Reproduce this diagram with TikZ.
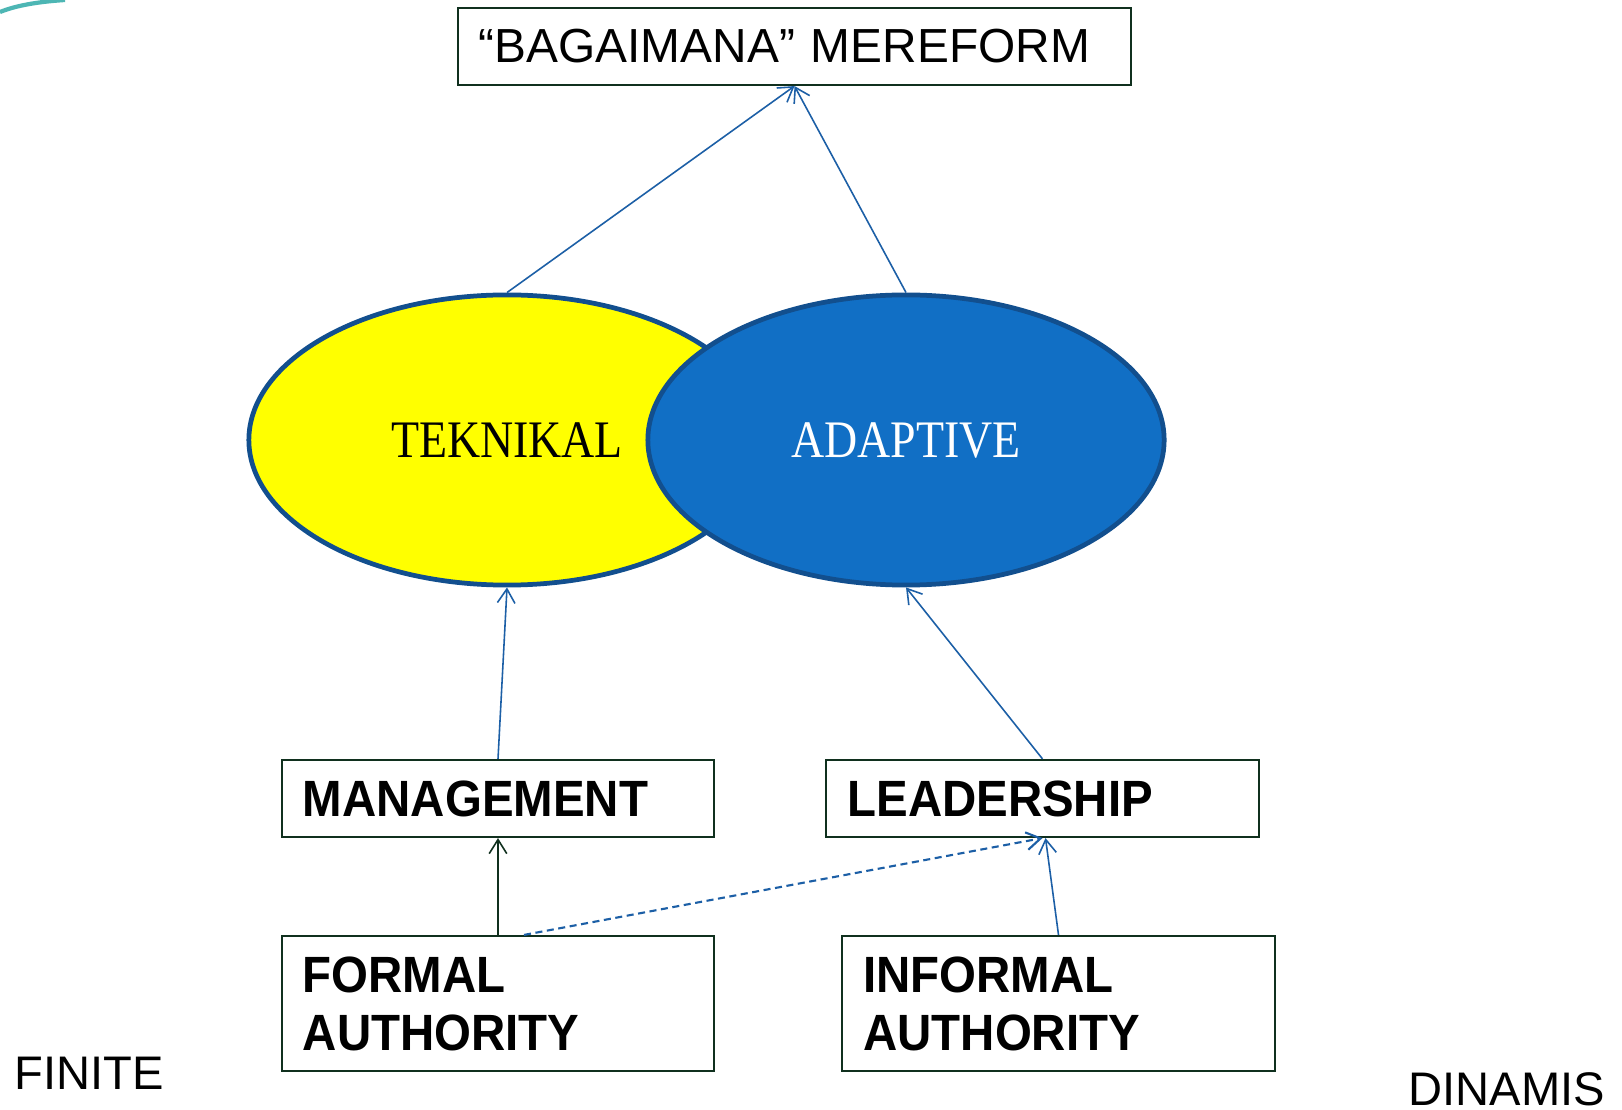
\documentclass[tikz,border=0pt]{standalone}
\usepackage{fontspec}
\setmainfont{Liberation Sans}
\newfontfamily\boxfont[FakeStretch = 0.93]{Liberation Sans}
\newfontfamily\ovalfont[FakeStretch = 0.87]{Liberation Serif}
\usetikzlibrary{
    arrows.meta,
    shapes.geometric
}
\definecolor{boxline}{HTML}{10301E}
\definecolor{ovalline}{HTML}{124F8E}
\definecolor{linkblue}{HTML}{1C5FA6}
\definecolor{tekfill}{HTML}{FFFF00}
\definecolor{adafill}{HTML}{116FC5}
\definecolor{swoosh}{HTML}{4DB6B4}
\tikzset {
    box/.style = {
        draw = boxline, line width = 0.6pt, fill = white,
        inner xsep = 0.21cm, inner ysep = 0pt, align = left
    },
    title box/.style = {
        box, text width = 6.31cm, minimum height = 0.77cm,
        font = \fontsize{13.6}{16}\selectfont
    },
    role box/.style = {
        box, text width = 3.9cm, minimum height = 0.77cm,
        font = \boxfont\bfseries\fontsize{14.5}{16.5}\selectfont
    },
    source box/.style = {
        role box, minimum height = 1.35cm
    },
    oval/.style = {
        ellipse, draw = ovalline, line width = 1.35pt, inner sep = 0pt,
        minimum width = 5.16cm, minimum height = 2.9cm,
        font = \ovalfont\fontsize{15}{18}\selectfont
    },
    link/.style = {
        draw = linkblue, line width = 0.45pt,
        arrows = {-Straight Barb[length = 4pt, width = 5pt]}
    },
    corner/.style = {inner sep = 0pt, font = \fontsize{13.4}{16}\selectfont}
}
\begin{document}
\begin{tikzpicture}[x = 0.01cm, y = -0.01cm]
    \path [fill = white, use as bounding box] (0, 0) rectangle (1622, 1110);
    \draw [swoosh, line width = 1.2pt] (0, 12) .. controls (15, 6) and (35, 2) .. (65, 0);

    \node (title) [title box] at (794.5, 46.5) {``BAGAIMANA'' MEREFORM};

    \node (tek) [oval, fill = tekfill] at (507, 440) {TEKNIKAL};
    \node (ada) [oval, fill = adafill, text = white] at (906, 440) {ADAPTIVE};

    \node (mgmt) [role box] at (498, 798.5) {MANAGEMENT};
    \node (lead) [role box] at (1042.5, 798.5) {LEADERSHIP};
    \node (formal) [source box] at (498, 1003.5) {FORMAL\\AUTHORITY};
    \node (informal) [source box] at (1058.5, 1003.5) {INFORMAL\\AUTHORITY};

    \node (finite) [corner, anchor = base west] at (14, 1089) {FINITE};
    \node (dinamis) [corner, anchor = base west] at (1408, 1105) {DINAMIS};

    \draw [link] (tek.north) -- (title.south);
    \draw [link] (ada.north) -- (title.south);
    \draw [link] (mgmt.north) -- (tek.south);
    \draw [link] (lead.north) -- (ada.south);
    \draw [link, draw = boxline] (formal.north) -- (mgmt.south);
    \draw [link, line width = 0.6pt, dash pattern = on 2pt off 1.3pt] ([xshift = 0.26cm]formal.north) -- (lead.south);
    \draw [link] (informal.north) -- ([xshift = 0.03cm]lead.south);
\end{tikzpicture}
\end{document}
